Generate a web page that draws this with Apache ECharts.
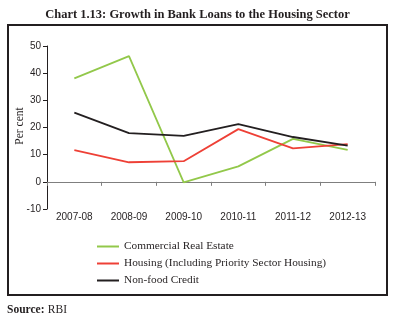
<!DOCTYPE html>
<html>
<head>
<meta charset="utf-8">
<script src="https://cdn.jsdelivr.net/npm/echarts@6/dist/echarts.min.js"></script>
<style>
  html, body { margin: 0; padding: 0; background: #fff; }
  #chart { width: 395px; height: 329px; }
</style>
</head>
<body>
<div id="chart"></div>
<script>
// Growth in bank loans to the housing sector, per cent
const years = ['2007-08', '2008-09', '2009-10', '2010-11', '2011-12', '2012-13'];
const commercialRealEstate = [38.1, 46.3, -0.2, 5.7, 15.8, 11.8];
const housing = [11.7, 7.2, 7.6, 19.4, 12.3, 13.9];
const nonFoodCredit = [25.5, 17.9, 16.9, 21.2, 16.5, 13.3];
const yTicks = { min: -10, max: 50, step: 10 };

const serif = 'Liberation Serif';
const sans = 'Liberation Sans';

const chart = echarts.init(document.getElementById('chart'), null, { renderer: 'canvas' });

chart.setOption({
  animation: false,
  backgroundColor: '#ffffff',
  title: {
    text: 'Chart 1.13: Growth in Bank Loans to the Housing Sector',
    left: 'center',
    top: 3,
    textStyle: { fontFamily: serif, fontSize: 12.5, fontWeight: 'bold', color: '#231f20' }
  },
  graphic: [
    {
      type: 'rect',
      shape: { x: 8, y: 25, width: 379, height: 270 },
      style: { fill: 'none', stroke: '#231f20', lineWidth: 2 },
      silent: true
    },
    {
      // vertical axis title
      type: 'text',
      x: 20,
      y: 126,
      rotation: Math.PI / 2,
      style: {
        text: 'Per cent',
        fontFamily: serif,
        fontSize: 11.5,
        fill: '#231f20',
        align: 'center',
        verticalAlign: 'middle'
      },
      silent: true
    },
    {
      type: 'text',
      left: 7,
      top: 304,
      style: {
        rich: {
          b: { fontFamily: serif, fontWeight: 'bold', fontSize: 11.5, fill: '#231f20' },
          n: { fontFamily: serif, fontSize: 11.5, fill: '#231f20' }
        },
        text: '{b|Source:} {n|RBI}'
      }
    }
  ],
  grid: { left: 47, right: 20, top: 46, bottom: 120 },
  legend: {
    orient: 'vertical',
    left: 92,
    top: 236,
    itemWidth: 22,
    itemHeight: 2,
    itemGap: 6,
    icon: 'rect',
    textStyle: { fontFamily: serif, fontSize: 11.3, color: '#231f20', padding: [0, 0, 0, 0] },
    data: ['Commercial Real Estate', 'Housing (Including Priority Sector Housing)', 'Non-food Credit']
  },
  xAxis: {
    type: 'category',
    data: years,
    boundaryGap: true,
    axisLine: { onZero: true, lineStyle: { color: '#7f7f7f', width: 1 } },
    axisTick: { show: true, inside: false, length: 4, lineStyle: { color: '#7f7f7f' }, alignWithLabel: false },
    axisLabel: { margin: 3, fontFamily: sans, fontSize: 10, color: '#231f20' },
    splitLine: { show: false }
  },
  yAxis: {
    type: 'value',
    min: yTicks.min,
    max: yTicks.max,
    interval: yTicks.step,
    axisLine: { show: true, onZero: false, lineStyle: { color: '#231f20', width: 1 } },
    axisTick: { show: true, length: 4, lineStyle: { color: '#231f20' } },
    axisLabel: { margin: 6, fontFamily: sans, fontSize: 10, color: '#231f20' },
    splitLine: { show: false }
  },
  series: [
    {
      name: 'Commercial Real Estate',
      type: 'line',
      data: commercialRealEstate,
      symbol: 'none',
      lineStyle: { color: '#92c84a', width: 1.8 },
      itemStyle: { color: '#92c84a' }
    },
    {
      name: 'Housing (Including Priority Sector Housing)',
      type: 'line',
      data: housing,
      symbol: 'none',
      lineStyle: { color: '#ee4036', width: 1.8 },
      itemStyle: { color: '#ee4036' }
    },
    {
      name: 'Non-food Credit',
      type: 'line',
      data: nonFoodCredit,
      symbol: 'none',
      lineStyle: { color: '#231f20', width: 1.8 },
      itemStyle: { color: '#231f20' }
    }
  ]
});
</script>
</body>
</html>
